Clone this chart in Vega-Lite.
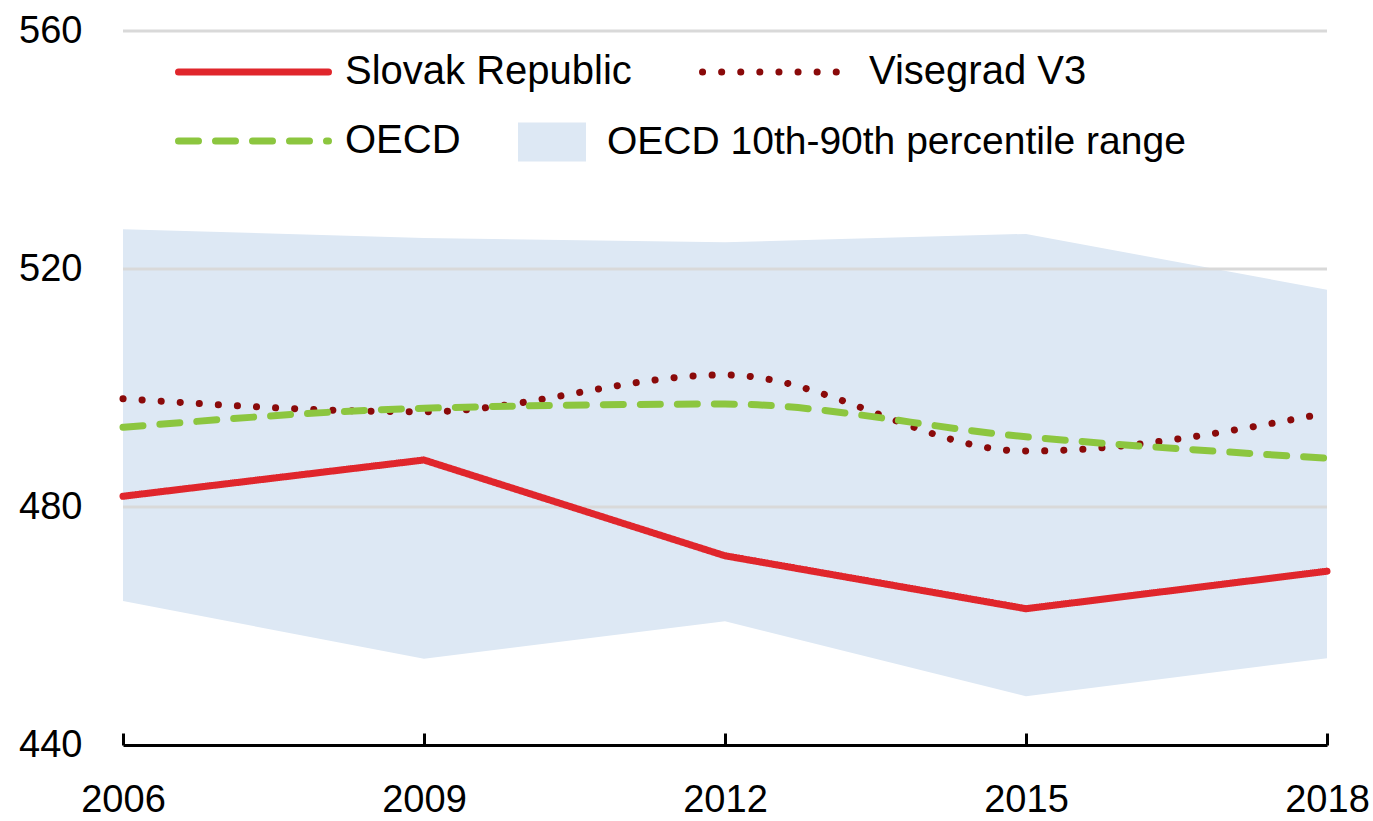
{
  "$schema": "https://vega.github.io/schema/vega-lite/v6.json",
  "width": 1204,
  "height": 714,
  "autosize": {"type": "none"},
  "padding": {"left": 123, "top": 31, "right": 46, "bottom": 76},
  "background": "white",
  "config": {
    "view": {"stroke": null},
    "font": "Liberation Sans, Arial, sans-serif"
  },
  "datasets": {
    "band": [
      {"year": 2006, "lo": 464.2, "hi": 526.7, "band": "OECD 10th-90th percentile range"},
      {"year": 2009, "lo": 454.5, "hi": 525.2, "band": "OECD 10th-90th percentile range"},
      {"year": 2012, "lo": 460.8, "hi": 524.5, "band": "OECD 10th-90th percentile range"},
      {"year": 2015, "lo": 448.2, "hi": 525.9, "band": "OECD 10th-90th percentile range"},
      {"year": 2018, "lo": 454.6, "hi": 516.5, "band": "OECD 10th-90th percentile range"}
    ],
    "grid": [{"g": 480}, {"g": 520}, {"g": 560}],
    "slovak": [
      {"year": 2006, "series": "Slovak Republic", "value": 481.8},
      {"year": 2009, "series": "Slovak Republic", "value": 487.9},
      {"year": 2012, "series": "Slovak Republic", "value": 471.8},
      {"year": 2015, "series": "Slovak Republic", "value": 462.9},
      {"year": 2018, "series": "Slovak Republic", "value": 469.2}
    ],
    "others": [
      {"year": 2006, "series": "Visegrad V3", "value": 498.2},
      {"year": 2009, "series": "Visegrad V3", "value": 496.0},
      {"year": 2012, "series": "Visegrad V3", "value": 502.2},
      {"year": 2015, "series": "Visegrad V3", "value": 489.4},
      {"year": 2018, "series": "Visegrad V3", "value": 495.8},
      {"year": 2006, "series": "OECD", "value": 493.4},
      {"year": 2009, "series": "OECD", "value": 496.6},
      {"year": 2012, "series": "OECD", "value": 497.3},
      {"year": 2015, "series": "OECD", "value": 491.8},
      {"year": 2018, "series": "OECD", "value": 488.2}
    ]
  },
  "layer": [
    {
      "data": {"name": "band"},
      "mark": {"type": "area", "opacity": 1},
      "encoding": {
        "x": {"field": "year", "type": "quantitative", "scale": {"domain": [2006, 2018], "nice": false, "zero": false},
          "axis": {"title": null, "values": [2006, 2009, 2012, 2015, 2018], "format": "d", "grid": false, "domainColor": "black", "domainWidth": 3, "tickColor": "black", "tickWidth": 3, "tickSize": -12, "labelFontSize": 38, "labelColor": "black", "labelPadding": 48, "labelFlush": false, "labelOverlap": false}},
        "y": {"field": "lo", "type": "quantitative", "scale": {"domain": [440, 560], "nice": false, "zero": false},
          "axis": {"title": null, "values": [440, 480, 520, 560], "domain": false, "ticks": false, "tickSize": 0, "grid": false, "labelFontSize": 38, "labelColor": "black", "labelPadding": 41}},
        "y2": {"field": "hi"},
        "fill": {"field": "band", "type": "nominal",
          "scale": {"domain": ["OECD 10th-90th percentile range"], "range": ["#dde8f4"]},
          "legend": {"orient": "none", "legendX": 395, "legendY": 79, "title": null, "symbolType": "M-1,-0.574H1V0.574H-1Z", "symbolSize": 4624, "symbolStrokeWidth": 0, "symbolOpacity": 1, "labelFontSize": 39, "labelColor": "black", "labelOffset": 21, "clipHeight": 64, "labelLimit": 1000}}
      }
    },
    {
      "data": {"name": "grid"},
      "mark": {"type": "rule", "color": "#d9d9d9", "strokeWidth": 3},
      "encoding": {
        "y": {"field": "g", "type": "quantitative", "title": null}
      }
    },
    {
      "data": {"name": "slovak"},
      "mark": {"type": "line", "strokeWidth": 7, "strokeCap": "round", "strokeJoin": "round"},
      "encoding": {
        "x": {"field": "year", "type": "quantitative", "title": null},
        "y": {"field": "value", "type": "quantitative", "title": null},
        "color": {"field": "series", "type": "nominal",
          "scale": {"domain": ["Slovak Republic", "Visegrad V3", "OECD"], "range": ["#e0262c", "#8a0a0a", "#8cc63f"]},
          "legend": {"orient": "none", "legendX": 52, "legendY": 9, "columns": 2, "direction": "horizontal", "title": null, "symbolType": "stroke", "symbolSize": 22500, "symbolStrokeWidth": 7, "labelFontSize": 40, "labelColor": "black", "labelOffset": 13, "columnPadding": 67, "rowPadding": 5, "clipHeight": 64, "labelLimit": 1000, "encode": {"symbols": {"update": {"strokeCap": {"value": "round"}}}}}},
        "strokeDash": {"field": "series", "type": "nominal",
          "scale": {"domain": ["Slovak Republic", "Visegrad V3", "OECD"], "range": [[1, 0], [0.1, 19], [20, 17]]},
          "legend": {"orient": "none", "legendX": 52, "legendY": 9, "columns": 2, "direction": "horizontal", "title": null, "symbolType": "stroke", "symbolSize": 22500, "symbolStrokeWidth": 7, "labelFontSize": 40, "labelColor": "black", "labelOffset": 13, "columnPadding": 67, "rowPadding": 5, "clipHeight": 64, "labelLimit": 1000, "encode": {"symbols": {"update": {"strokeCap": {"value": "round"}}}}}}
      }
    },
    {
      "data": {"name": "others"},
      "mark": {"type": "line", "strokeWidth": 7, "strokeCap": "round", "strokeJoin": "round", "interpolate": "monotone"},
      "encoding": {
        "x": {"field": "year", "type": "quantitative", "title": null},
        "y": {"field": "value", "type": "quantitative", "title": null},
        "color": {"field": "series", "type": "nominal",
          "scale": {"domain": ["Slovak Republic", "Visegrad V3", "OECD"], "range": ["#e0262c", "#8a0a0a", "#8cc63f"]},
          "legend": {"orient": "none", "legendX": 52, "legendY": 9, "columns": 2, "direction": "horizontal", "title": null, "symbolType": "stroke", "symbolSize": 22500, "symbolStrokeWidth": 7, "labelFontSize": 40, "labelColor": "black", "labelOffset": 13, "columnPadding": 67, "rowPadding": 5, "clipHeight": 64, "labelLimit": 1000, "encode": {"symbols": {"update": {"strokeCap": {"value": "round"}}}}}},
        "strokeDash": {"field": "series", "type": "nominal",
          "scale": {"domain": ["Slovak Republic", "Visegrad V3", "OECD"], "range": [[1, 0], [0.1, 19], [20, 17]]},
          "legend": {"orient": "none", "legendX": 52, "legendY": 9, "columns": 2, "direction": "horizontal", "title": null, "symbolType": "stroke", "symbolSize": 22500, "symbolStrokeWidth": 7, "labelFontSize": 40, "labelColor": "black", "labelOffset": 13, "columnPadding": 67, "rowPadding": 5, "clipHeight": 64, "labelLimit": 1000, "encode": {"symbols": {"update": {"strokeCap": {"value": "round"}}}}}}
      }
    }
  ]
}
